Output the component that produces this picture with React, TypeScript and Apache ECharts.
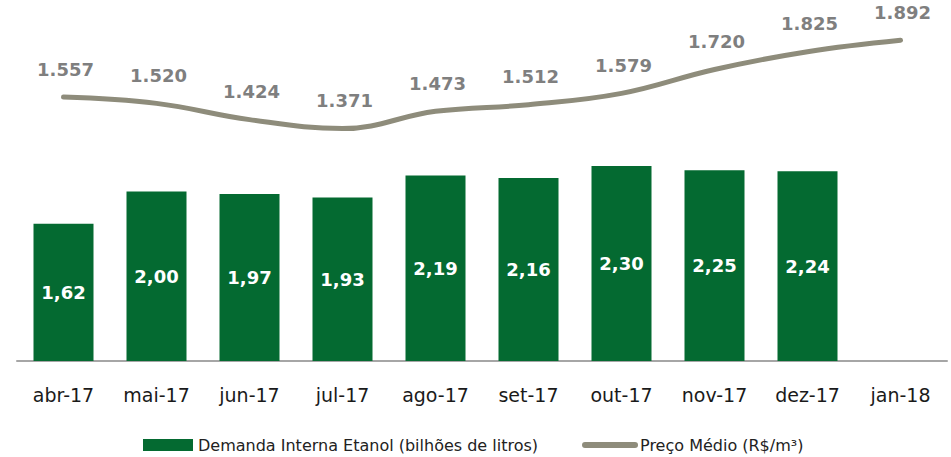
import React, { useEffect, useRef } from "react";
import * as echarts from "echarts";

const categories = ["abr-17", "mai-17", "jun-17", "jul-17", "ago-17", "set-17", "out-17", "nov-17", "dez-17", "jan-18"];
const demanda = [1.62, 2.0, 1.97, 1.93, 2.19, 2.16, 2.3, 2.25, 2.24, null];
const preco = [1557, 1520, 1424, 1371, 1473, 1512, 1579, 1720, 1825, 1892];
const barName = "Demanda Interna Etanol (bilhões de litros)";
const lineName = "Preço Médio (R$/m³)";

const FONT = "'DejaVu Sans', sans-serif";

export default function App() {
  const ref = useRef<HTMLDivElement>(null);
  useEffect(() => {
    document.body.style.margin = "0";
    const chart = echarts.init(ref.current!, null, { renderer: "svg" });
    chart.setOption({
      animation: false,
      backgroundColor: "#ffffff",
      textStyle: { fontFamily: FONT },
      grid: { left: 17, right: 4, top: 22, bottom: 96, containLabel: false },
      legend: {
        top: 436,
        left: 143,
        padding: 0,
        itemWidth: 50,
        itemHeight: 12,
        itemGap: 44,
        textStyle: { fontSize: 16, color: "#222", fontFamily: FONT, lineHeight: 18 },
        data: [
          { name: barName, icon: "rect" },
          { name: lineName, itemStyle: { opacity: 0 }, lineStyle: { width: 6, cap: "round" } },
        ],
      },
      xAxis: {
        type: "category",
        data: categories,
        axisLine: { show: true, lineStyle: { color: "#A6A6A6", width: 2 } },
        axisTick: { show: false },
        axisLabel: { fontSize: 19, color: "#1a1a1a", margin: 24, fontFamily: FONT },
      },
      yAxis: [
        { type: "value", min: 0, max: 4, show: false, splitLine: { show: false } },
        { type: "value", min: 0, max: 2000, show: false, splitLine: { show: false } },
      ],
      series: [
        {
          name: barName,
          type: "bar",
          yAxisIndex: 0,
          data: demanda,
          barWidth: 60,
          itemStyle: { color: "#046A31" },
          label: {
            show: true,
            position: "inside",
            color: "#ffffff",
            fontWeight: "bold",
            fontSize: 18,
            fontFamily: FONT,
            formatter: (p: any) => Number(p.value).toFixed(2).replace(".", ","),
          },
        },
        {
          name: lineName,
          type: "line",
          yAxisIndex: 1,
          data: preco,
          smooth: 0.4,
          symbol: "circle",
          symbolSize: 0,
          lineStyle: { color: "#8E8C7B", width: 5, cap: "round" },
          itemStyle: { color: "#8E8C7B" },
          label: {
            show: true,
            position: "top",
            distance: 19,
            offset: [2, 0],
            color: "#7F7F7F",
            fontWeight: "bold",
            fontSize: 18,
            fontFamily: FONT,
            formatter: (p: any) => {
              const v = Number(p.value);
              return Math.floor(v / 1000) + "." + String(v % 1000).padStart(3, "0");
            },
          },
        },
      ],
    });
    return () => chart.dispose();
  }, []);
  return <div ref={ref} style={{ width: 951, height: 457 }} />;
}
